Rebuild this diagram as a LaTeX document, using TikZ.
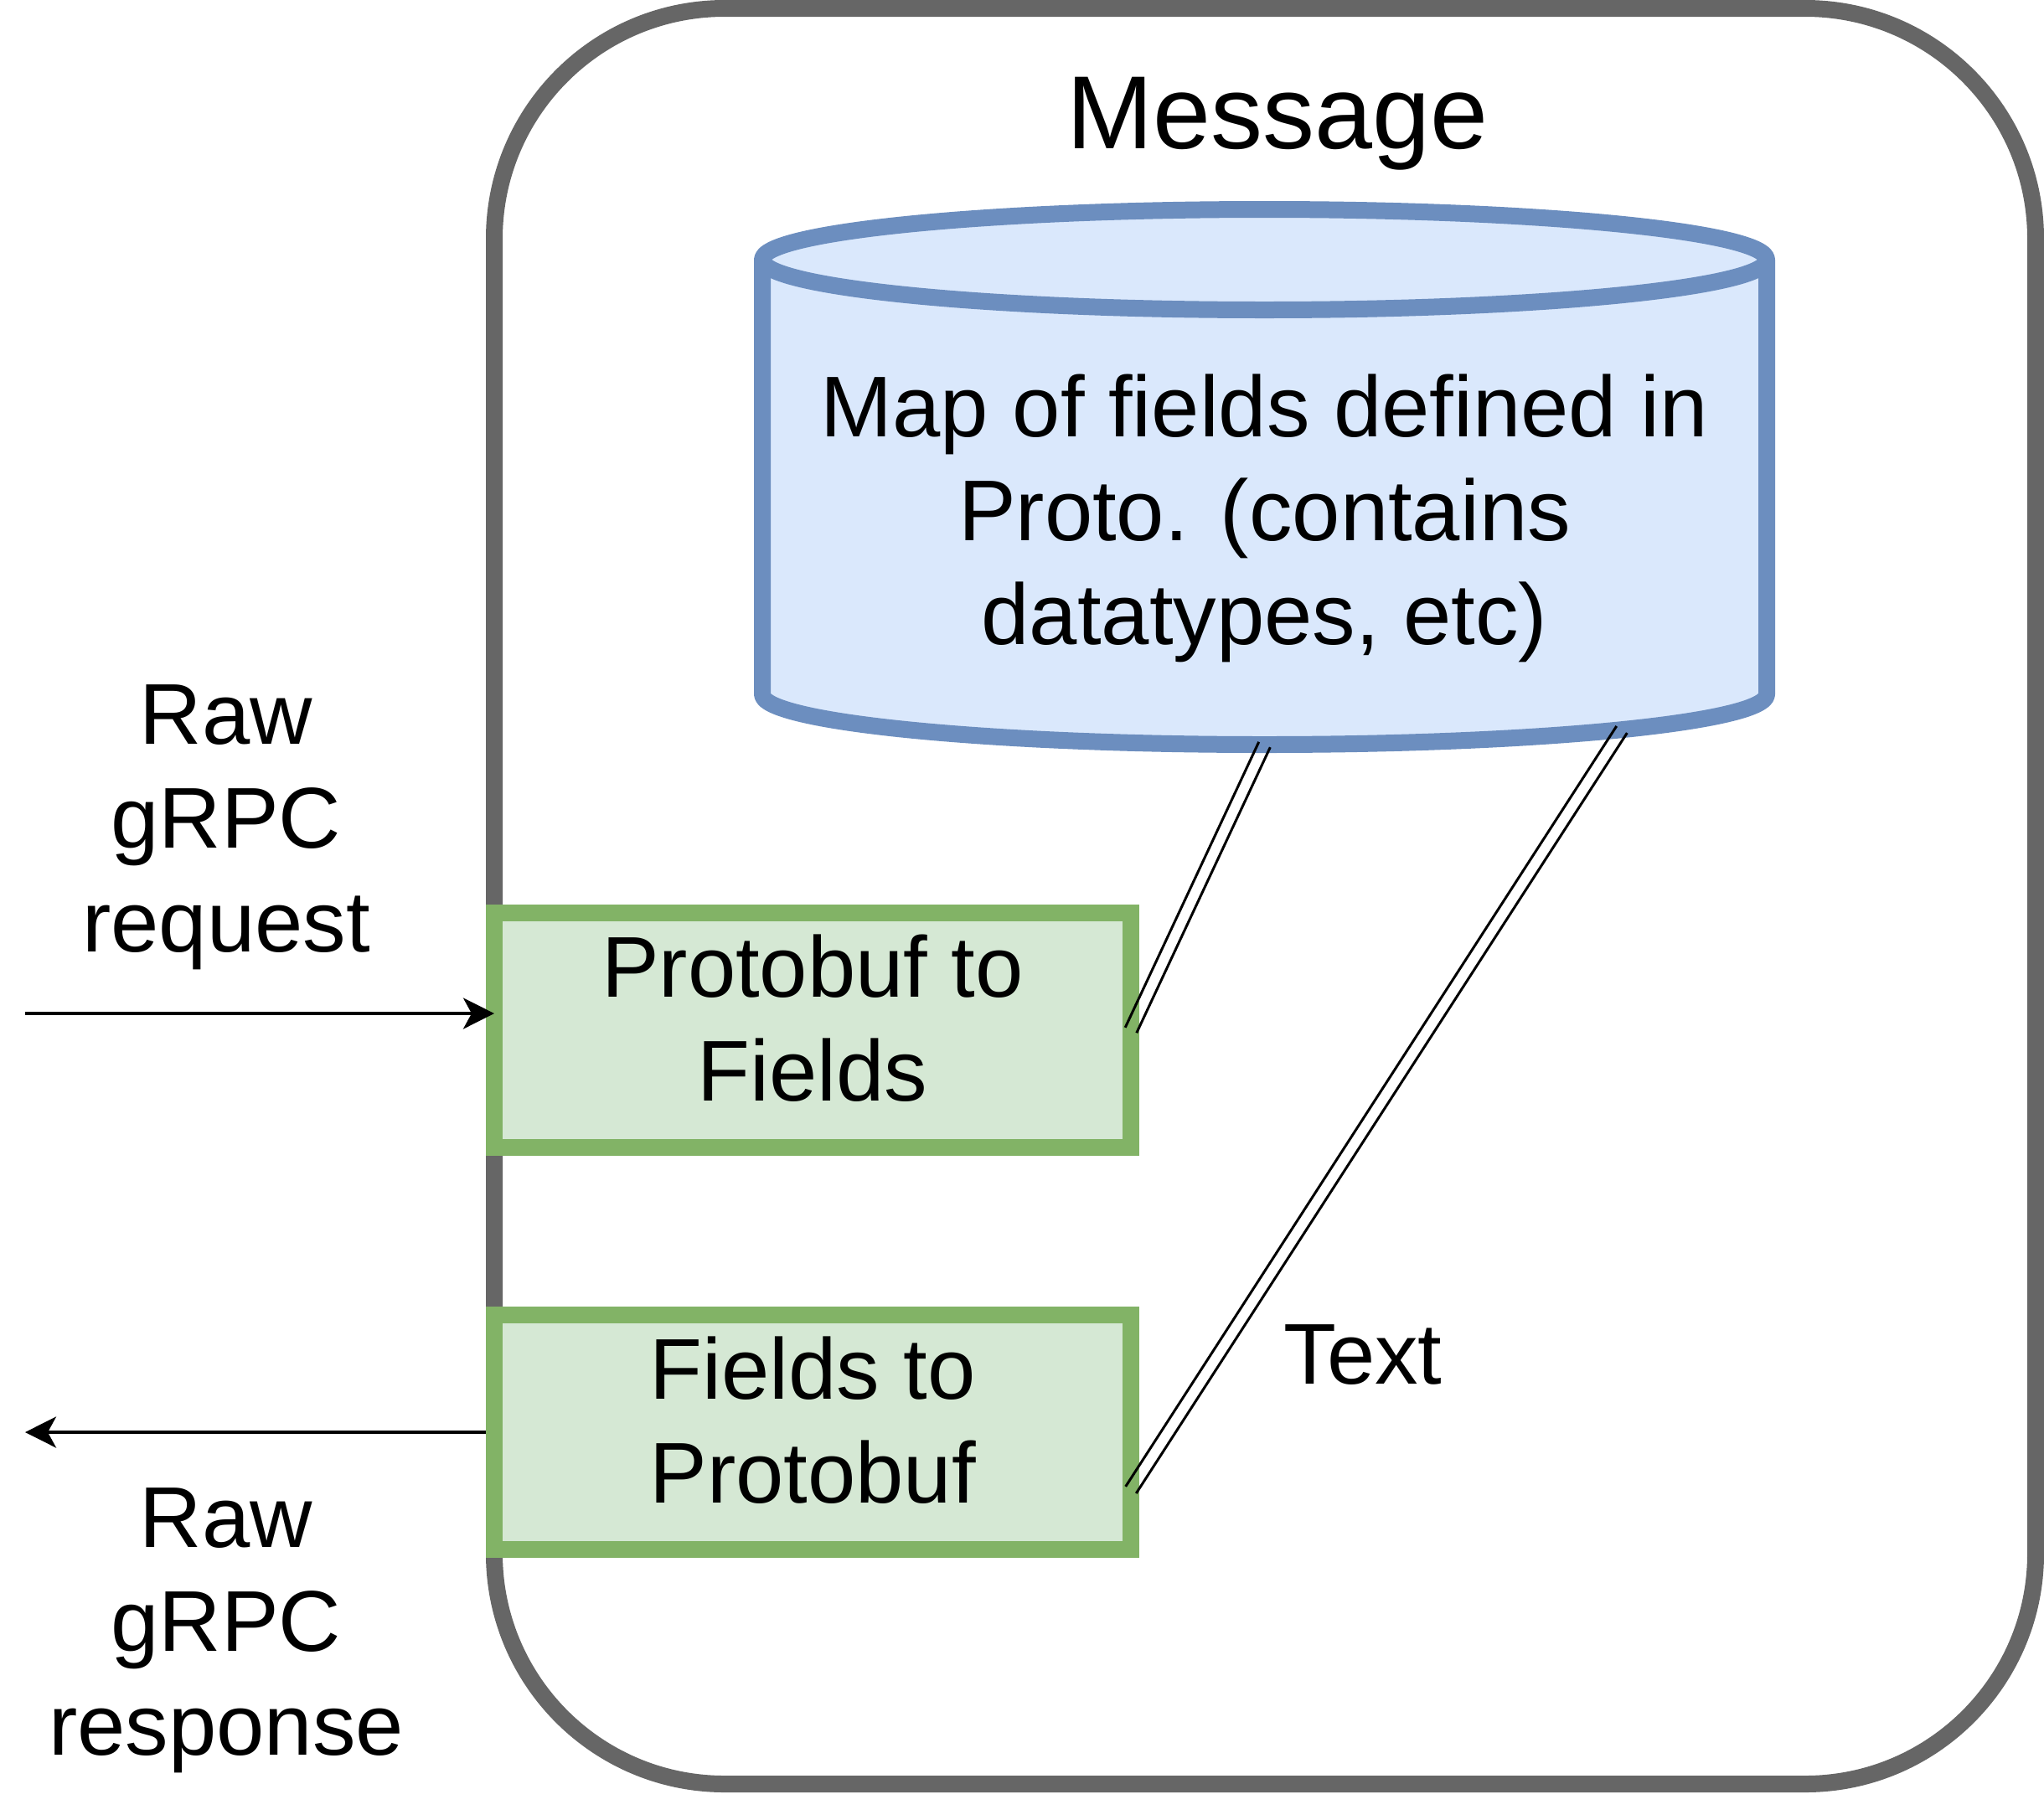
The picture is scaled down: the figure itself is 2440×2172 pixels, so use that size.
\documentclass[tikz,border=0pt]{standalone}
\usepackage{fontspec}
\setmainfont{Liberation Sans}
\usetikzlibrary{arrows.meta,calc}
\definecolor{outerc}{HTML}{666666}
\definecolor{bluefill}{HTML}{DAE8FC}
\definecolor{blueline}{HTML}{6C8EBF}
\definecolor{greenfill}{HTML}{D5E8D4}
\definecolor{greenline}{HTML}{82B366}
\begin{document}
\begin{tikzpicture}[x=1pt,y=1pt,
  frame/.style={draw=outerc, line width=20pt, rounded corners=275pt},
  procbox/.style={draw=greenline, fill=greenfill, line width=20pt, minimum width=760pt, minimum height=280pt, outer sep=0pt, inner sep=0pt},
  dbshape/.style={draw=blueline, fill=bluefill, line width=20pt, line join=round},
  lbl/.style={inner sep=0pt, outer sep=0pt, align=center, font=\fontsize{103}{124}\selectfont},
  titlelbl/.style={inner sep=0pt, outer sep=0pt, font=\fontsize{124}{148}\selectfont},
  arr/.style={line width=4pt, -{Stealth[length=37pt,width=37pt,inset=10pt]}},
  linkline/.style={line width=3pt, line cap=butt}
]
\useasboundingbox (0,0) rectangle (2440,-2172);
% outer frame
\draw[frame] (590,-10) rectangle (2430,-2130);
\node[titlelbl, anchor=base] (title) at (1525,-177) {Message};
% cylinder
\draw[dbshape] (910,-310) -- (910,-829)
  arc[start angle=180, end angle=360, x radius=599.5, y radius=60]
  -- (2109,-310)
  arc[start angle=0, end angle=180, x radius=599.5, y radius=60] -- cycle;
\draw[dbshape, fill=none] (910,-310) arc[start angle=180, end angle=360, x radius=599.5, y radius=60];
\coordinate (cylbot) at (1509.5,-889);
\coordinate (cylright) at (1936,-871);
% (multi-line nodes: base anchor = baseline of the last line)
\node[lbl, anchor=base] (maptext) at (1509.5,-769) {Map of fields defined in\\Proto. (contains\\datatypes, etc)};
% process boxes
\node[procbox] (p2f) at (970,-1230) {};
\node[procbox] (f2p) at (970,-1710) {};
\node[lbl, anchor=base] (p2ftext) at (970,-1314) {Protobuf to\\Fields};
\node[lbl, anchor=base] (f2ptext) at (970,-1794) {Fields to\\Protobuf};
% side labels
\node[lbl, anchor=base] (req) at (270,-1136) {Raw\\gRPC\\request};
\node[lbl, anchor=base] (resp) at (270,-2095) {Raw\\gRPC\\response};
\node[lbl, anchor=base] (txt) at (1627,-1652) {Text};
% arrows
\coordinate (reqstart) at (30,-1210);
\coordinate (respend) at (30,-1710);
\draw[arr] (reqstart) -- (reqstart -| p2f.west);
\draw[arr] ([xshift=-10pt]f2p.west) -- (respend);
% double links
\coordinate (p2fend) at (p2f.east);
\coordinate (f2pend) at ($(f2p.south east)!0.254!(f2p.north east)$);
\draw[linkline] ($(cylbot)!7.5pt!90:(p2fend)$) -- ($(p2fend)!7.5pt!-90:(cylbot)$);
\draw[linkline] ($(cylbot)!7.5pt!-90:(p2fend)$) -- ($(p2fend)!7.5pt!90:(cylbot)$);
\draw[linkline] ($(cylright)!7.5pt!90:(f2pend)$) -- ($(f2pend)!7.5pt!-90:(cylright)$);
\draw[linkline] ($(cylright)!7.5pt!-90:(f2pend)$) -- ($(f2pend)!7.5pt!90:(cylright)$);
\end{tikzpicture}
\end{document}
